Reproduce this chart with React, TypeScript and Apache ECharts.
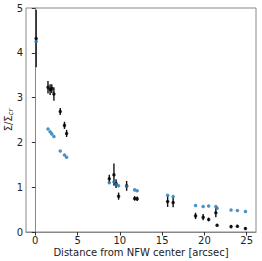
import React, { useEffect, useRef } from "react";
import * as echarts from "echarts";

const distances = [0.1, 1.5, 1.75, 1.95, 2.2, 2.95, 3.45, 3.7, 8.75, 9.3, 9.55, 9.85, 10.8, 11.75, 12.05, 15.65, 16.3, 18.95, 19.85, 20.5, 21.35, 21.5, 23.15, 23.9, 24.85];
const measured = [4.32, 3.23, 3.18, 3.2, 3.08, 2.69, 2.38, 2.2, 1.19, 1.28, 1.08, 0.8, 1.03, 0.75, 0.74, 0.68, 0.66, 0.36, 0.33, 0.28, 0.43, 0.15, 0.12, 0.13, 0.08];
const measuredErr = [0.64, 0.14, 0.12, 0.1, 0.15, 0.08, 0.08, 0.08, 0.09, 0.25, 0.1, 0.08, 0.11, 0.05, 0.05, 0.12, 0.11, 0.07, 0.07, 0.04, 0.1, 0.03, 0.03, 0.03, 0.03];
const model = [4.25, 2.3, 2.24, 2.19, 2.13, 1.81, 1.72, 1.67, 1.1, 1.12, 1.06, 1.03, 1.02, 0.94, 0.92, 0.82, 0.79, 0.59, 0.57, 0.58, 0.57, 0.53, 0.49, 0.48, 0.46];
const xTicks = [0, 5, 10, 15, 20, 25];

export default function App() {
  const ref = useRef<HTMLDivElement>(null);
  useEffect(() => {
    if (!ref.current) return;
    const chart = echarts.init(ref.current, null, { renderer: "svg" });
    const font = "DejaVu Sans";
    chart.setOption({
      animation: false,
      grid: {
        left: 26, right: 6, top: 8, bottom: 29,
        show: true, borderColor: "#888", borderWidth: 1,
        containLabel: false, outerBoundsMode: "none",
      },
      xAxis: {
        type: "value",
        min: -1.1,
        max: 26.1,
        name: "Distance from NFW center [arcsec]",
        nameLocation: "middle",
        nameGap: 15,
        nameMoveOverlap: false,
        nameTextStyle: { fontFamily: font, fontSize: 10, color: "#222" },
        axisLine: { show: true, lineStyle: { color: "#888" } },
        axisTick: { show: true, length: 3.5, lineStyle: { color: "#333" }, customValues: xTicks },
        axisLabel: { fontFamily: font, fontSize: 10, color: "#222", margin: 3, customValues: xTicks },
        splitLine: { show: false },
      },
      yAxis: {
        type: "value",
        min: 0,
        max: 5,
        interval: 1,
        name: "{a|Σ/Σ}{b|cr}",
        nameLocation: "middle",
        nameGap: 12,
        nameMoveOverlap: false,
        nameTextStyle: {
          rich: {
            a: { fontFamily: font, fontSize: 10, color: "#222" },
            b: { fontFamily: font, fontSize: 7, fontStyle: "italic", color: "#222", padding: [4, 0, 0, 0] },
          },
        },
        axisLine: { show: true, lineStyle: { color: "#888" } },
        axisTick: { show: true, length: 3.5, lineStyle: { color: "#333" } },
        axisLabel: { fontFamily: font, fontSize: 10, color: "#222", margin: 3 },
        splitLine: { show: false },
      },
      series: [
        {
          type: "custom",
          data: distances.map((d, i) => [d, measured[i] - measuredErr[i], measured[i] + measuredErr[i]]),
          renderItem: (params: any, api: any) => {
            const p1 = api.coord([api.value(0), api.value(1)]);
            const p2 = api.coord([api.value(0), api.value(2)]);
            return {
              type: "line",
              shape: { x1: p1[0], y1: p1[1], x2: p2[0], y2: p2[1] },
              style: { stroke: "#111", lineWidth: 1.4 },
            };
          },
          z: 2,
        },
        {
          type: "scatter",
          data: distances.map((d, i) => [d, measured[i]]),
          symbol: "circle",
          symbolSize: 3.5,
          itemStyle: { color: "#000" },
          z: 3,
        },
        {
          type: "scatter",
          data: distances.map((d, i) => [d, model[i]]),
          symbol: "circle",
          symbolSize: 3.5,
          itemStyle: { color: "#1f77b4" },
          z: 4,
        },
      ],
    });
    return () => chart.dispose();
  }, []);
  return <div ref={ref} style={{ width: 262, height: 261, position: "absolute", left: 0, top: 0 }} />;
}
